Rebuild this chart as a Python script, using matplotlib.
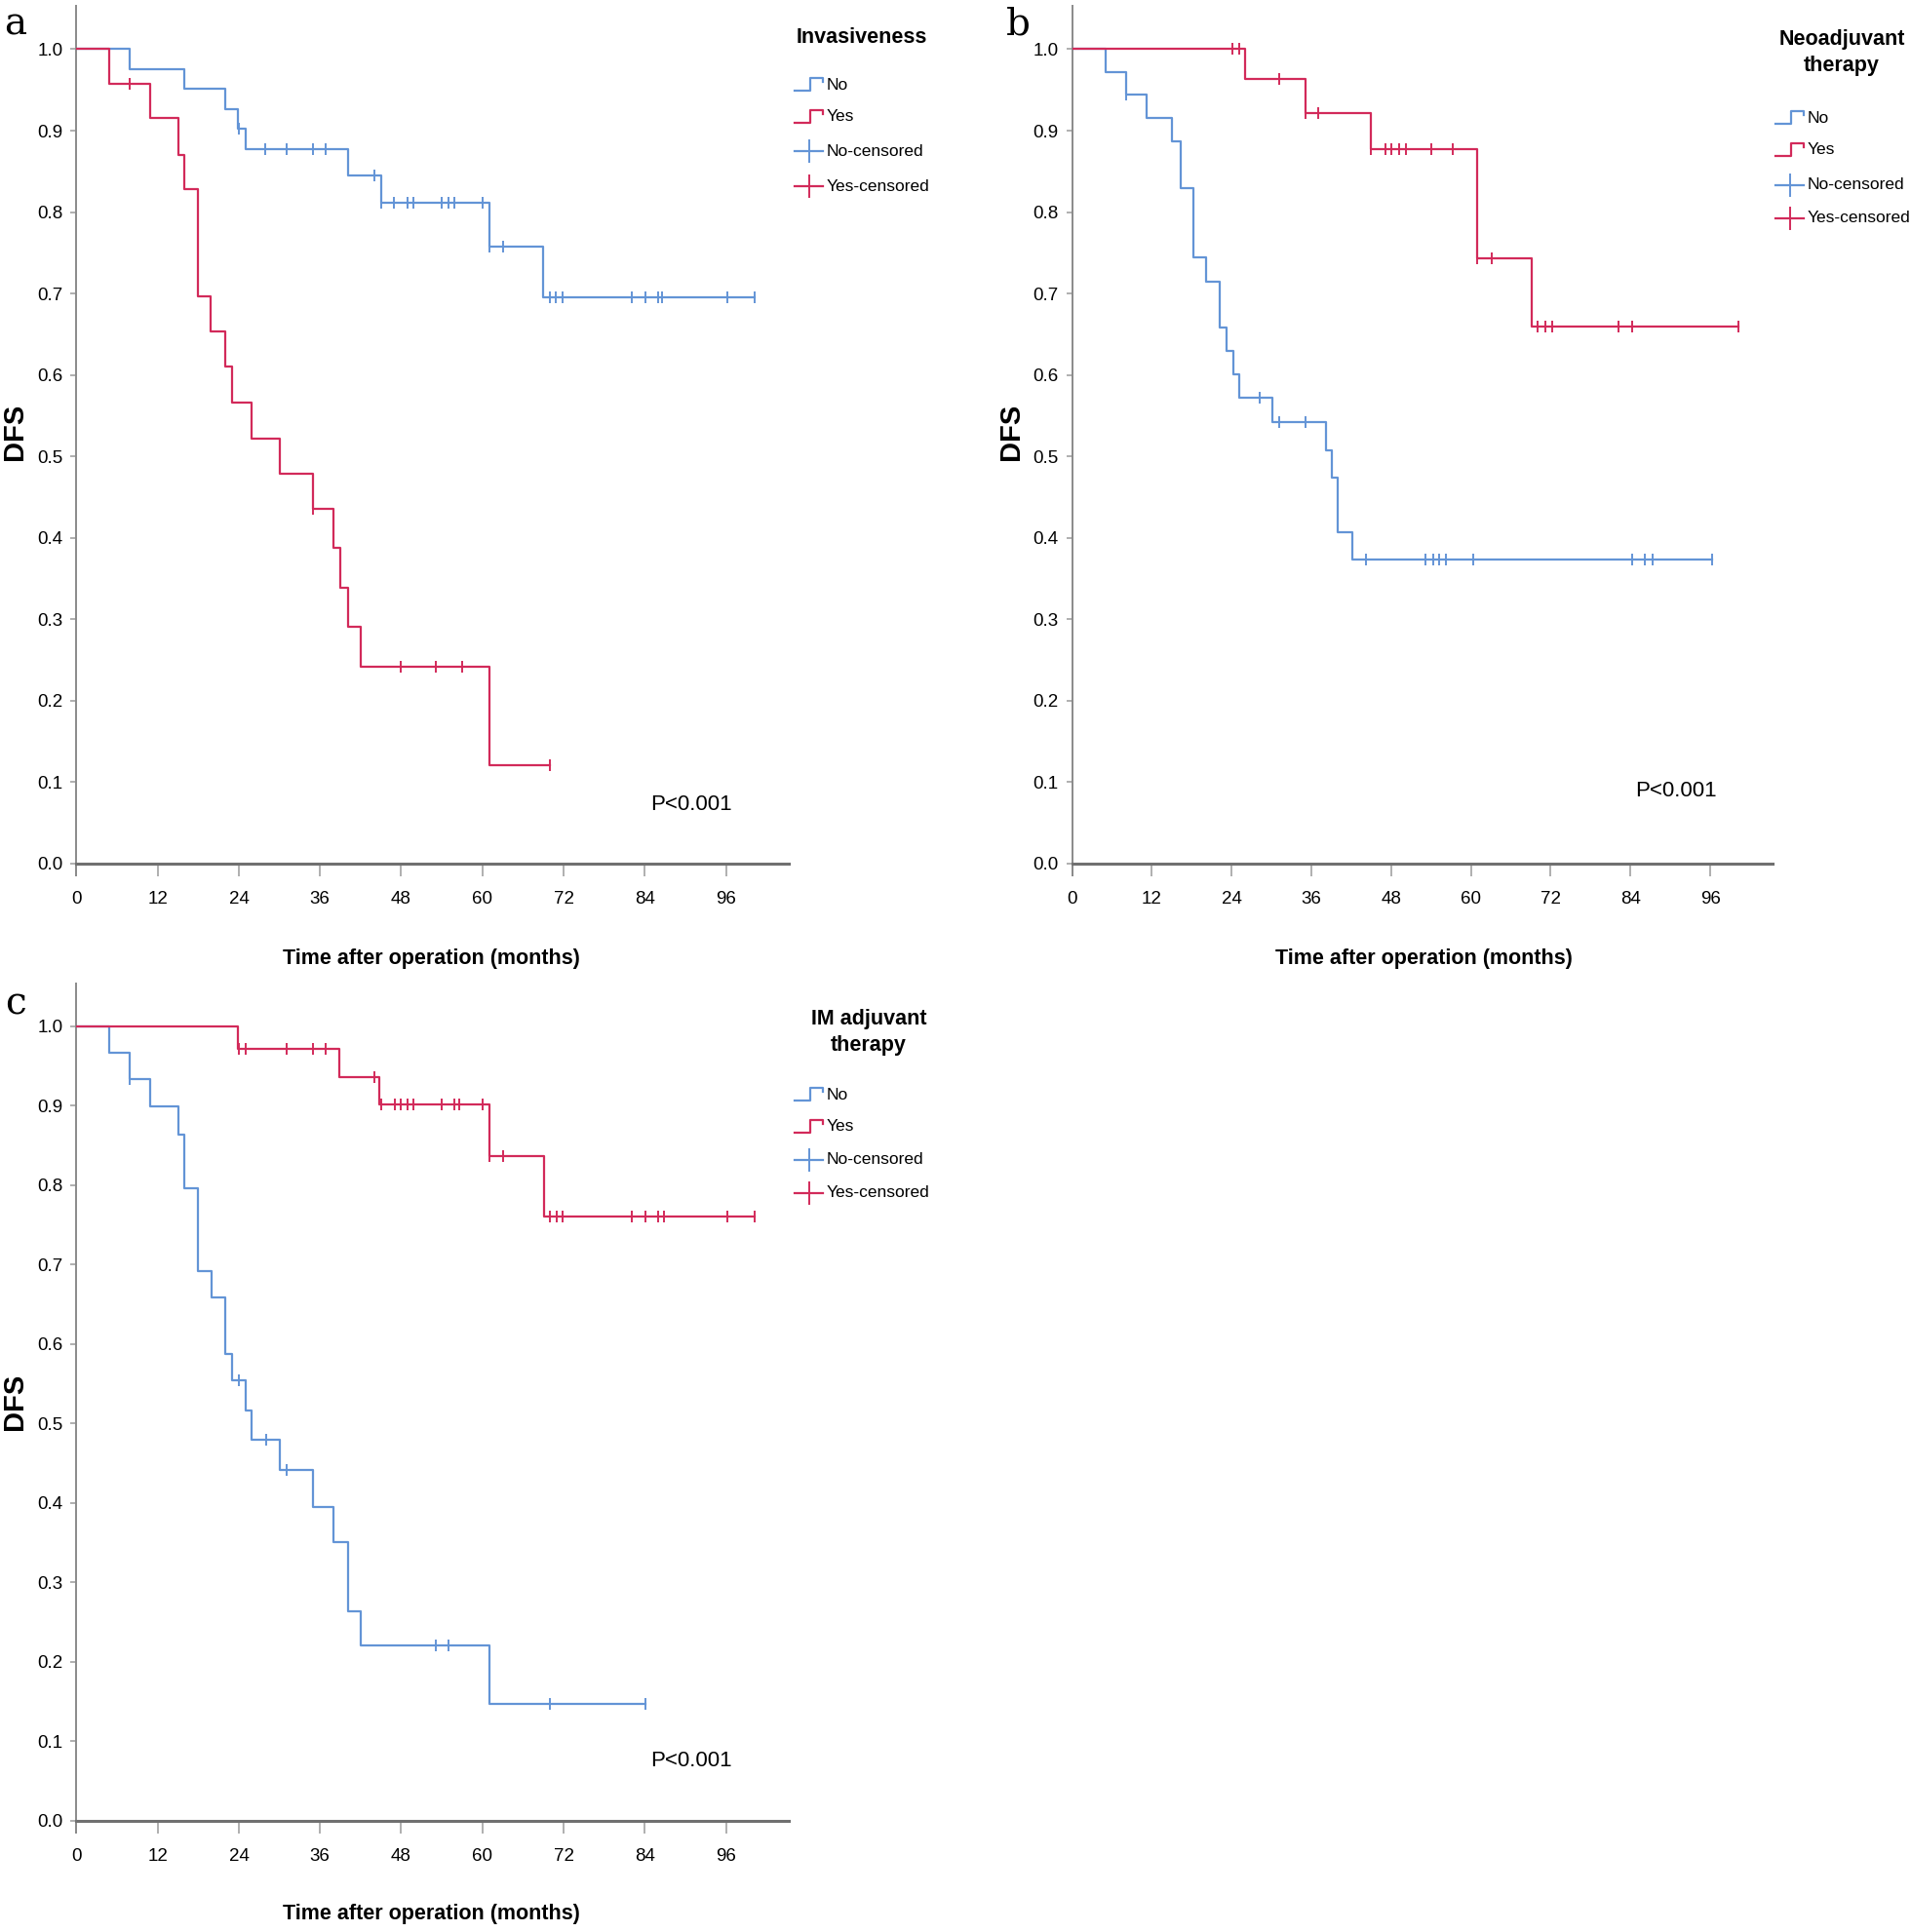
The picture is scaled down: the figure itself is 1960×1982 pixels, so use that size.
import numpy as np
import matplotlib
matplotlib.use('Agg')
import matplotlib.pyplot as plt
from matplotlib.lines import Line2D

## Canvas
W, H = 1960, 1982
DPI = 100
params = {'font.family': ['Liberation Sans', 'DejaVu Sans'],
          'xtick.labelsize': 13.5,
          'ytick.labelsize': 13.5,
          }
matplotlib.rcParams.update(params)

BLUE = '#6394d6'
RED = '#d22a5a'
AXGRAY = '#8a8a8a'
XGRAY = '#707070'

## Data (months, survival after each event, censor times)
# panel a: Invasiveness
a_no_t = [7.9, 16.0, 22.0, 23.9, 25.0, 40.1, 45.0, 61.0, 68.9]
a_no_s = [0.975, 0.951, 0.926, 0.902, 0.877, 0.845, 0.812, 0.758, 0.695]
a_no_c = [24.0, 27.9, 31.0, 35.0, 36.9, 44.1, 45.0, 46.9, 48.9, 49.8, 54.0, 55.0,
          55.9, 60.1, 61.0, 63.0, 70.0, 70.9, 71.9, 82.1, 84.1, 86.0, 86.6, 96.2, 100.2]
a_yes_t = [4.9, 10.9, 15.1, 16.0, 17.9, 19.9, 22.0, 23.0, 25.9, 30.0, 35.0, 38.0,
           39.0, 40.1, 42.0, 61.0]
a_yes_s = [0.958, 0.916, 0.870, 0.828, 0.697, 0.653, 0.610, 0.566, 0.522, 0.479,
           0.436, 0.388, 0.339, 0.291, 0.242, 0.121]
a_yes_c = [7.9, 35.0, 48.0, 53.1, 57.0, 70.0]

# panel b: Neoadjuvant therapy
b_no_t = [5.0, 8.1, 11.2, 15.1, 16.3, 18.2, 20.1, 22.2, 23.2, 24.2, 25.1, 30.1,
          38.2, 39.1, 40.0, 42.1]
b_no_s = [0.972, 0.944, 0.916, 0.887, 0.829, 0.744, 0.715, 0.658, 0.629, 0.601,
          0.572, 0.542, 0.508, 0.474, 0.407, 0.373]
b_no_c = [8.1, 28.2, 31.1, 35.1, 44.2, 53.2, 54.3, 55.2, 56.2, 60.3, 84.2, 86.1,
          87.3, 96.3]
b_yes_t = [26.1, 35.1, 45.0, 61.0, 69.1]
b_yes_s = [0.963, 0.921, 0.877, 0.743, 0.660]
b_yes_c = [24.1, 25.1, 31.1, 35.1, 37.1, 45.0, 47.1, 48.1, 49.2, 50.2, 54.1, 57.2,
           61.0, 63.1, 70.1, 71.2, 72.2, 82.2, 84.2, 100.2]

# panel c: IM adjuvant therapy
c_no_t = [4.9, 7.9, 10.9, 15.1, 16.0, 17.9, 20.0, 22.0, 23.0, 25.0, 25.9, 30.0,
          35.0, 38.0, 40.1, 42.0, 61.0]
c_no_s = [0.967, 0.933, 0.899, 0.864, 0.796, 0.692, 0.658, 0.588, 0.554, 0.516,
          0.480, 0.441, 0.395, 0.351, 0.264, 0.220, 0.147]
c_no_c = [7.9, 24.0, 28.0, 31.0, 53.1, 55.0, 70.0, 84.1]
c_yes_t = [23.9, 38.9, 44.8, 61.0, 69.1]
c_yes_s = [0.971, 0.936, 0.901, 0.836, 0.760]
c_yes_c = [24.0, 25.0, 31.0, 35.0, 36.9, 44.1, 45.0, 47.1, 48.0, 49.0, 49.8, 54.0,
           55.9, 56.6, 60.1, 61.0, 63.0, 70.0, 71.0, 71.9, 82.1, 84.1, 86.0, 86.8,
           96.2, 100.2]

x_ticks = [0, 12, 24, 36, 48, 60, 72, 84, 96]
y_ticks = [0.0, 0.1, 0.2, 0.3, 0.4, 0.5, 0.6, 0.7, 0.8, 0.9, 1.0]
p_text = 'P<0.001'


def fx(x):
    return x / W


def fy(y):
    return 1 - y / H


def km(ax, t, s, c, color):
    t = np.asarray(t)
    s = np.asarray(s)
    c = np.asarray(c)
    tt = np.concatenate([[0.0], t, [c.max()]])
    ss = np.concatenate([[1.0], s, [s[-1]]])
    ax.step(tt, ss, where='post', color=color, lw=1.6, zorder=3)
    idx = np.searchsorted(t, c, side='right')
    cy = np.where(idx == 0, 1.0, s[np.maximum(idx - 1, 0)])
    ax.plot(c, cy, ls='none', marker='|', ms=9, mew=1.4, color=color, zorder=4)


def style_axes(ax):
    ax.set_xlim(0, 105.3)
    ax.set_ylim(-0.015, 1.053)
    for sp in ['top', 'right']:
        ax.spines[sp].set_visible(False)
    ax.spines['bottom'].set_position(('data', 0))
    ax.spines['bottom'].set_color(XGRAY)
    ax.spines['bottom'].set_linewidth(2.2)
    ax.spines['left'].set_color(AXGRAY)
    ax.spines['left'].set_linewidth(1.4)
    ax.set_xticks(x_ticks)
    ax.set_yticks(y_ticks)
    ax.set_yticklabels(['%.1f' % v for v in y_ticks])
    ax.tick_params(axis='x', length=9.5, width=1.1, color='#9a9a9a', pad=11)
    ax.tick_params(axis='y', length=4, width=1.1, color='#9a9a9a', pad=6)


def legend(fig, xh, xt, ytitle, title, yrows):
    fig.text(fx(xt), fy(ytitle), title, ha='center', va='center',
             fontsize=15.5, fontweight='bold', linespacing=1.4)
    labels = ['No', 'Yes', 'No-censored', 'Yes-censored']
    colors = [BLUE, RED, BLUE, RED]
    for i, (lab, col, yr) in enumerate(zip(labels, colors, yrows)):
        if i < 2:
            xs = [xh, xh + 16, xh + 16, xh + 29, xh + 29]
            ys = [yr + 6, yr + 6, yr - 7, yr - 7, yr - 3]
            fig.add_artist(Line2D([fx(v) for v in xs], [fy(v) for v in ys],
                                  color=col, lw=1.6))
        else:
            fig.add_artist(Line2D([fx(xh), fx(xh + 29)], [fy(yr), fy(yr)],
                                  color=col, lw=1.6))
            fig.add_artist(Line2D([fx(xh + 14.5), fx(xh + 14.5)],
                                  [fy(yr - 11), fy(yr + 11)], color=col, lw=1.4))
        fig.text(fx(xh + 33), fy(yr), lab, ha='left', va='center', fontsize=12.5)


fig = plt.figure(figsize=(W / DPI, H / DPI), dpi=DPI)

panels = [
    dict(rect=[fx(78.4), fy(898.5), 730.7 / W, 892.3 / H],
         no=(a_no_t, a_no_s, a_no_c), yes=(a_yes_t, a_yes_s, a_yes_c),
         p=(90.9, 0.072), letter=('a', 16, 25), dfs=(15, 443),
         xlab=(442, 983), leg=(815, 884, 38, 'Invasiveness', [87, 120, 155, 191])),
    dict(rect=[fx(1099.5), fy(898.5), 718.0 / W, 892.3 / H],
         no=(b_no_t, b_no_s, b_no_c), yes=(b_yes_t, b_yes_s, b_yes_c),
         p=(90.9, 0.089), letter=('b', 1044, 25), dfs=(1037, 443),
         xlab=(1460, 983), leg=(1821, 1889, 54, 'Neoadjuvant\ntherapy', [121, 154, 190, 224])),
    dict(rect=[fx(78.4), fy(1880.0), 730.7 / W, 870.5 / H],
         no=(c_no_t, c_no_s, c_no_c), yes=(c_yes_t, c_yes_s, c_yes_c),
         p=(90.8, 0.075), letter=('c', 16, 1030), dfs=(15, 1438),
         xlab=(442, 1963), leg=(815, 891, 1059, 'IM adjuvant\ntherapy', [1123, 1156, 1190, 1224])),
]

for pn in panels:
    ax = fig.add_axes(pn['rect'])
    style_axes(ax)
    km(ax, *pn['no'], BLUE)
    km(ax, *pn['yes'], RED)
    ax.text(pn['p'][0], pn['p'][1], p_text, ha='center', va='center', fontsize=16)
    lt, lx, ly = pn['letter']
    fig.text(fx(lx), fy(ly), lt, ha='center', va='center', fontsize=28,
             family='DejaVu Serif')
    fig.text(fx(pn['dfs'][0]), fy(pn['dfs'][1]), 'DFS', rotation=90, ha='center',
             va='center', fontsize=21, fontweight='bold')
    fig.text(fx(pn['xlab'][0]), fy(pn['xlab'][1]), 'Time after operation (months)',
             ha='center', va='center', fontsize=15.5, fontweight='bold')
    legend(fig, *pn['leg'])

plt.savefig('out.png', dpi=DPI)
